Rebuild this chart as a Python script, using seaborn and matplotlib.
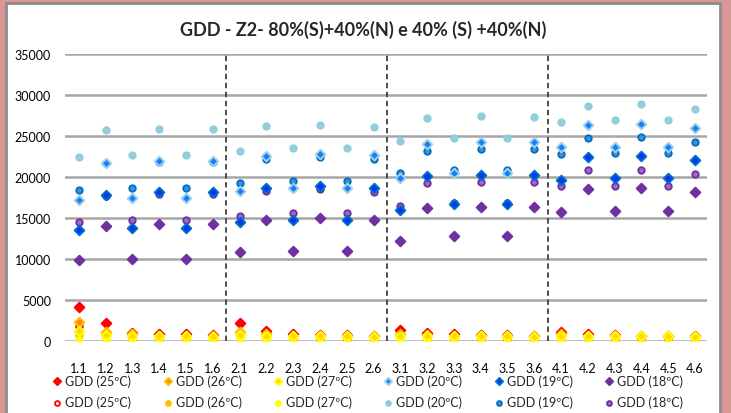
import matplotlib
matplotlib.use("Agg")
import matplotlib.pyplot as plt
from matplotlib.patches import Rectangle
import seaborn as sns
import pandas as pd

categories = ["1.1", "1.2", "1.3", "1.4", "1.5", "1.6",
              "2.1", "2.2", "2.3", "2.4", "2.5", "2.6",
              "3.1", "3.2", "3.3", "3.4", "3.5", "3.6",
              "4.1", "4.2", "4.3", "4.4", "4.5", "4.6"]

# Diamond series (first scenario)
d25 = [4200, 2150, 1000, 870, 870, 700, 2150, 1200, 830, 680, 680, 650,
       1400, 950, 800, 680, 680, 650, 1050, 900, 700, 650, 650, 650]
d26 = [2350, 1100, 800, 650, 650, 620, 1100, 800, 650, 600, 600, 580,
       900, 700, 600, 580, 580, 560, 800, 650, 600, 580, 580, 560]
d27 = [1200, 700, 550, 550, 550, 500, 700, 600, 550, 550, 550, 500,
       650, 550, 550, 550, 550, 500, 600, 550, 550, 550, 550, 500]
d20 = [17200, 21700, 17500, 21950, 17500, 21950, 18300, 22550, 18600, 22850, 18600, 22650,
       19850, 24000, 20500, 24250, 20500, 24250, 23600, 26350, 23700, 26500, 23700, 25950]
d19 = [13550, 17850, 13800, 18150, 13800, 18150, 14500, 18650, 14800, 18900, 14800, 18700,
       16000, 20100, 16650, 20300, 16650, 20300, 19650, 22400, 19850, 22550, 19850, 22100]
d18 = [9850, 14050, 10050, 14250, 10050, 14250, 10800, 14750, 11000, 14950, 11000, 14750,
       12250, 16200, 12750, 16400, 12750, 16400, 15700, 18550, 15850, 18650, 15850, 18150]

# Circle series (second scenario)
c25 = [1850, 900, 500, 350, 350, 300, 900, 500, 350, 300, 300, 300,
       600, 400, 350, 300, 300, 300, 450, 350, 300, 300, 300, 300]
c26 = [700, 450, 250, 200, 200, 200, 450, 300, 200, 200, 200, 200,
       350, 250, 200, 200, 200, 200, 300, 250, 200, 200, 200, 200]
c27 = [100, 80, 60, 60, 60, 60, 100, 80, 60, 60, 60, 60,
       100, 80, 60, 60, 60, 60, 100, 80, 60, 60, 60, 60]
c20 = [22400, 25700, 22650, 25850, 22650, 25850, 23200, 26200, 23500, 26400, 23500, 26150,
       24400, 27200, 24800, 27400, 24800, 27350, 26750, 28700, 26950, 28850, 26950, 28300]
c19 = [18400, 21650, 18600, 21800, 18700, 21800, 19250, 22250, 19500, 22450, 19500, 22150,
       20500, 23200, 20900, 23400, 20900, 23400, 22800, 24750, 22950, 24850, 22950, 24300]
c18 = [14500, 17700, 14750, 17900, 14750, 17900, 15300, 18300, 15550, 18500, 15550, 18150,
       16500, 19250, 16850, 19450, 16850, 19450, 18850, 20800, 18900, 20850, 18900, 20350]

labels = ["GDD (25ºC)", "GDD (26ºC)", "GDD (27ºC)", "GDD (20ºC)", "GDD (19ºC)", "GDD (18ºC)"]
yticks = [0, 5000, 10000, 15000, 20000, 25000, 30000, 35000]
title = "GDD - Z2- 80%(S)+40%(N) e 40% (S) +40%(N)"

diamond_series = [d25, d26, d27, d20, d19, d18]
circle_series = [c25, c26, c27, c20, c19, c18]
diamond_style = [("#FF0000", "#FF0000"), ("#FF8C00", "#FFC000"), ("#FFD700", "#FFFF00"),
                 ("#1A7CFF", "#9DD3E8"), ("#0033FF", "#0070C0"), ("#7030A0", "#7030A0")]
circle_style = [("#FFFFFF", "#FF0000"), ("#FFC000", "#FFC000"), ("#FFFF00", "#FFFF00"),
                ("#92CDDC", "#92CDDC"), ("#3D8FE0", "#0070C0"), ("#9A6AC8", "#7030A0")]

sns.set_style("white")
plt.rcParams["font.family"] = ["Lato", "DejaVu Sans"]

fig = plt.figure(figsize=(7.31, 4.14), dpi=100)
fig.patch.set_facecolor("#D99694")
bg = Rectangle((6 / 731, -0.05), (720 - 6) / 731, 1.05 - 4 / 414,
               transform=fig.transFigure, facecolor="white",
               edgecolor="#8C8C8C", linewidth=2, zorder=-10)
fig.patches.append(bg)
ax = fig.add_axes([65 / 731, 1 - 342 / 414, (707 - 65) / 731, (342 - 55) / 414])
ax.set_zorder(5)
ax.set_facecolor("none")

for vals, (fc, ec), lab in zip(circle_series, circle_style, labels):
    df = pd.DataFrame({"cat": categories, "val": vals})
    sns.scatterplot(data=df, x="cat", y="val", marker="o", s=22, color=fc,
                    edgecolor=ec, linewidth=1.3, ax=ax, zorder=3, label=lab)
for vals, (fc, ec), lab in zip(diamond_series, diamond_style, labels):
    df = pd.DataFrame({"cat": categories, "val": vals})
    sns.scatterplot(data=df, x="cat", y="val", marker="D", s=24, color=fc,
                    edgecolor=ec, linewidth=1.4, ax=ax, zorder=4, label=lab)

handles, labs = ax.get_legend_handles_labels()
ax.get_legend().remove()
circ_h, diam_h = handles[:6], handles[6:]
order_h, order_l = [], []
for i in range(6):
    order_h += [diam_h[i], circ_h[i]]
    order_l += [labels[i], labels[i]]

ax.set_ylim(0, 35000)
ax.set_xlim(-0.52, 23.45)
ax.set_yticks(yticks)
ax.set_yticklabels([str(v) for v in yticks])
ax.yaxis.grid(True, color="#A6A6A6", linewidth=1.8)
ax.xaxis.grid(False)
ax.set_axisbelow(True)
for sp in ax.spines.values():
    sp.set_visible(False)
ax.tick_params(axis="both", length=0, labelsize=9, colors="#000000")
ax.tick_params(axis="y", pad=10)
ax.tick_params(axis="x", pad=15)
ax.set_xlabel("")
ax.set_ylabel("")
for xv in [5.5, 11.5, 17.5]:
    ax.axvline(xv, color="#404040", linestyle=(0, (3, 2)), linewidth=1.3, zorder=2)

fig.text(0.497, 1 - 30 / 414, title, ha="center", va="center",
         fontsize=13, fontweight="bold")

leg = fig.legend(order_h, order_l, loc="upper center", ncol=6,
                 bbox_to_anchor=(368 / 731, 1 - 370 / 414), frameon=False,
                 fontsize=9, handlelength=0.7, handletextpad=0.3,
                 columnspacing=2.55, labelspacing=0.75, borderaxespad=0,
                 markerscale=0.75)
leg.set_zorder(6)

fig.savefig("out.png", dpi=100)
